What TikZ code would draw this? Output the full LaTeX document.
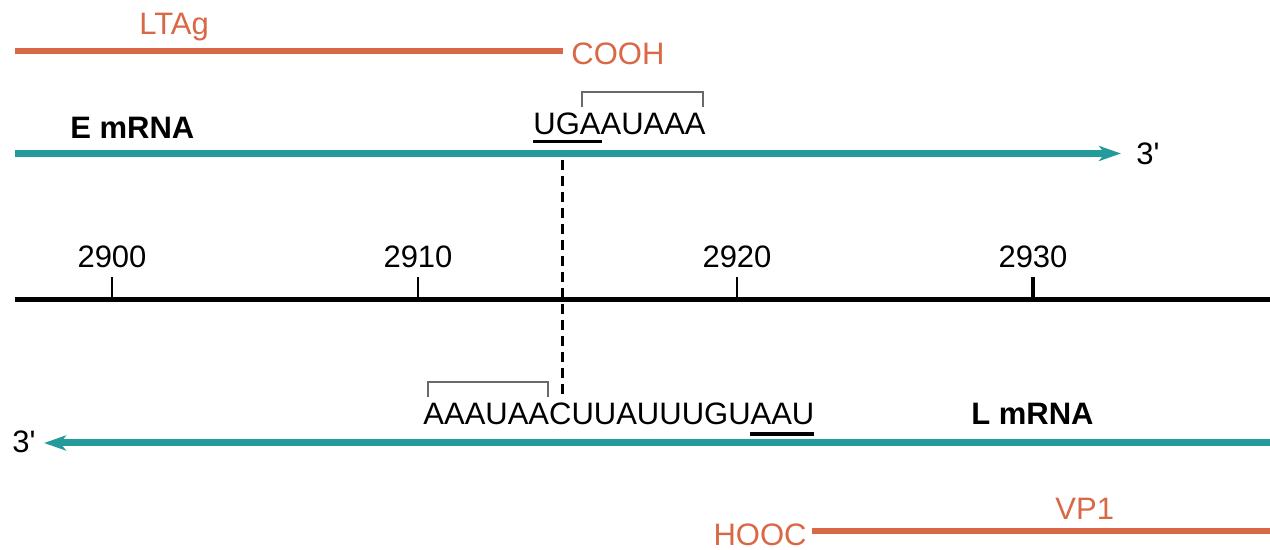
\documentclass[tikz,border=0pt]{standalone}
\usepackage{fontspec}
\setmainfont{Liberation Sans}
\usetikzlibrary{arrows.meta}
\definecolor{protein}{RGB}{216,104,70}
\definecolor{rna}{RGB}{36,154,154}
\definecolor{bracketgray}{RGB}{105,105,105}
\tikzset{
  lbl/.style={inner sep=0pt, font=\fontsize{15.5pt}{18pt}\selectfont},
  bold lbl/.style={lbl, font=\fontsize{15.5pt}{18pt}\selectfont\bfseries},
  prot lbl/.style={lbl, text=protein},
  protline/.style={draw=protein, line width=3pt},
  rnaline/.style={draw=rna, line width=3.5pt, -{Stealth[length=11pt, width=7.5pt, inset=3pt]}},
  axisline/.style={draw=black, line width=2.5pt},
  tick/.style={draw=black, line width=1pt},
  bigtick/.style={draw=black, line width=1.6pt},
  motif/.style={draw=bracketgray, line width=1.1pt},
  codon/.style={draw=black, line width=1.5pt},
  cleave/.style={draw=black, line width=1.5pt, dash pattern=on 5pt off 3pt},
}
\begin{document}
\begin{tikzpicture}[x=0.5pt, y=-0.5pt]
\useasboundingbox (0,0) rectangle (1270,550);

% LTAg (early protein, C-terminus)
\coordinate (ltS) at (15,51);
\coordinate (ltE) at (563,51);
\path[protline] (ltS) -- (ltE);
\node[prot lbl, anchor=base west] (ltag) at (139,35) {LTAg};
\node[prot lbl, anchor=base west] (cooh) at (571,65) {COOH};

% Early mRNA
\coordinate (eS) at (15,153.5);
\coordinate (eE) at (1121,153.5);
\path[rnaline] (eS) -- (eE);
\node[bold lbl, anchor=base west] (emrna) at (70,139) {E mRNA};
\node[lbl, anchor=base west] (eprime) at (1136,165) {3\textquotesingle};
\node[lbl, anchor=base west] (eseq) at (533,135) {UGAAUAAA};
\coordinate (ugL) at (533,142);
\coordinate (ugR) at (602,142);
\path[codon] (ugL) -- (ugR);
\coordinate (eb1) at (582,107);
\coordinate (eb2) at (582,92);
\coordinate (eb3) at (703,92);
\coordinate (eb4) at (703,107);
\path[motif] (eb1) -- (eb2) -- (eb3) -- (eb4);

% Genome coordinate axis
\coordinate (axS) at (15,299.5);
\coordinate (axE) at (1270,299.5);
\path[axisline] (axS) -- (axE);
\foreach \x/\n in {112/2900, 418/2910, 737/2920}{
  \coordinate (t\n) at (\x,298);
  \coordinate (u\n) at (\x,277);
  \path[tick] (t\n) -- (u\n);
  \node[lbl, anchor=base] (l\n) at (\x,268) {\n};
}
\coordinate (t2930) at (1033,298);
\coordinate (u2930) at (1033,277);
\path[bigtick] (t2930) -- (u2930);
\node[lbl, anchor=base] (l2930) at (1033,268) {2930};

% Processing site shared by both transcripts
\coordinate (cutTop) at (562,160);
\coordinate (cutBot) at (562,394);
\path[cleave] (cutTop) -- (cutBot);

% Late mRNA (opposite strand)
\coordinate (lS) at (1270,443);
\coordinate (lE) at (44,443);
\path[rnaline] (lS) -- (lE);
\node[lbl, anchor=base west] (lprime) at (12,453) {3\textquotesingle};
\node[bold lbl, anchor=base east] (lmrna) at (1094,425) {L mRNA};
\node[lbl, anchor=base west] (lseq) at (423,425) {AAAUAACUUAUUUGUAAU};
\coordinate (aauL) at (750,434);
\coordinate (aauR) at (814,434);
\path[codon, line width=2pt] (aauL) -- (aauR);
\coordinate (lb1) at (428,397);
\coordinate (lb2) at (428,382);
\coordinate (lb3) at (548,382);
\coordinate (lb4) at (548,397);
\path[motif] (lb1) -- (lb2) -- (lb3) -- (lb4);

% VP1 (late protein, C-terminus)
\coordinate (vpS) at (812,531);
\coordinate (vpE) at (1270,531);
\path[protline] (vpS) -- (vpE);
\node[prot lbl, anchor=base east] (hooc) at (807,546) {HOOC};
\node[prot lbl, anchor=base west] (vp1) at (1055,520) {VP1};
\end{tikzpicture}
\end{document}
